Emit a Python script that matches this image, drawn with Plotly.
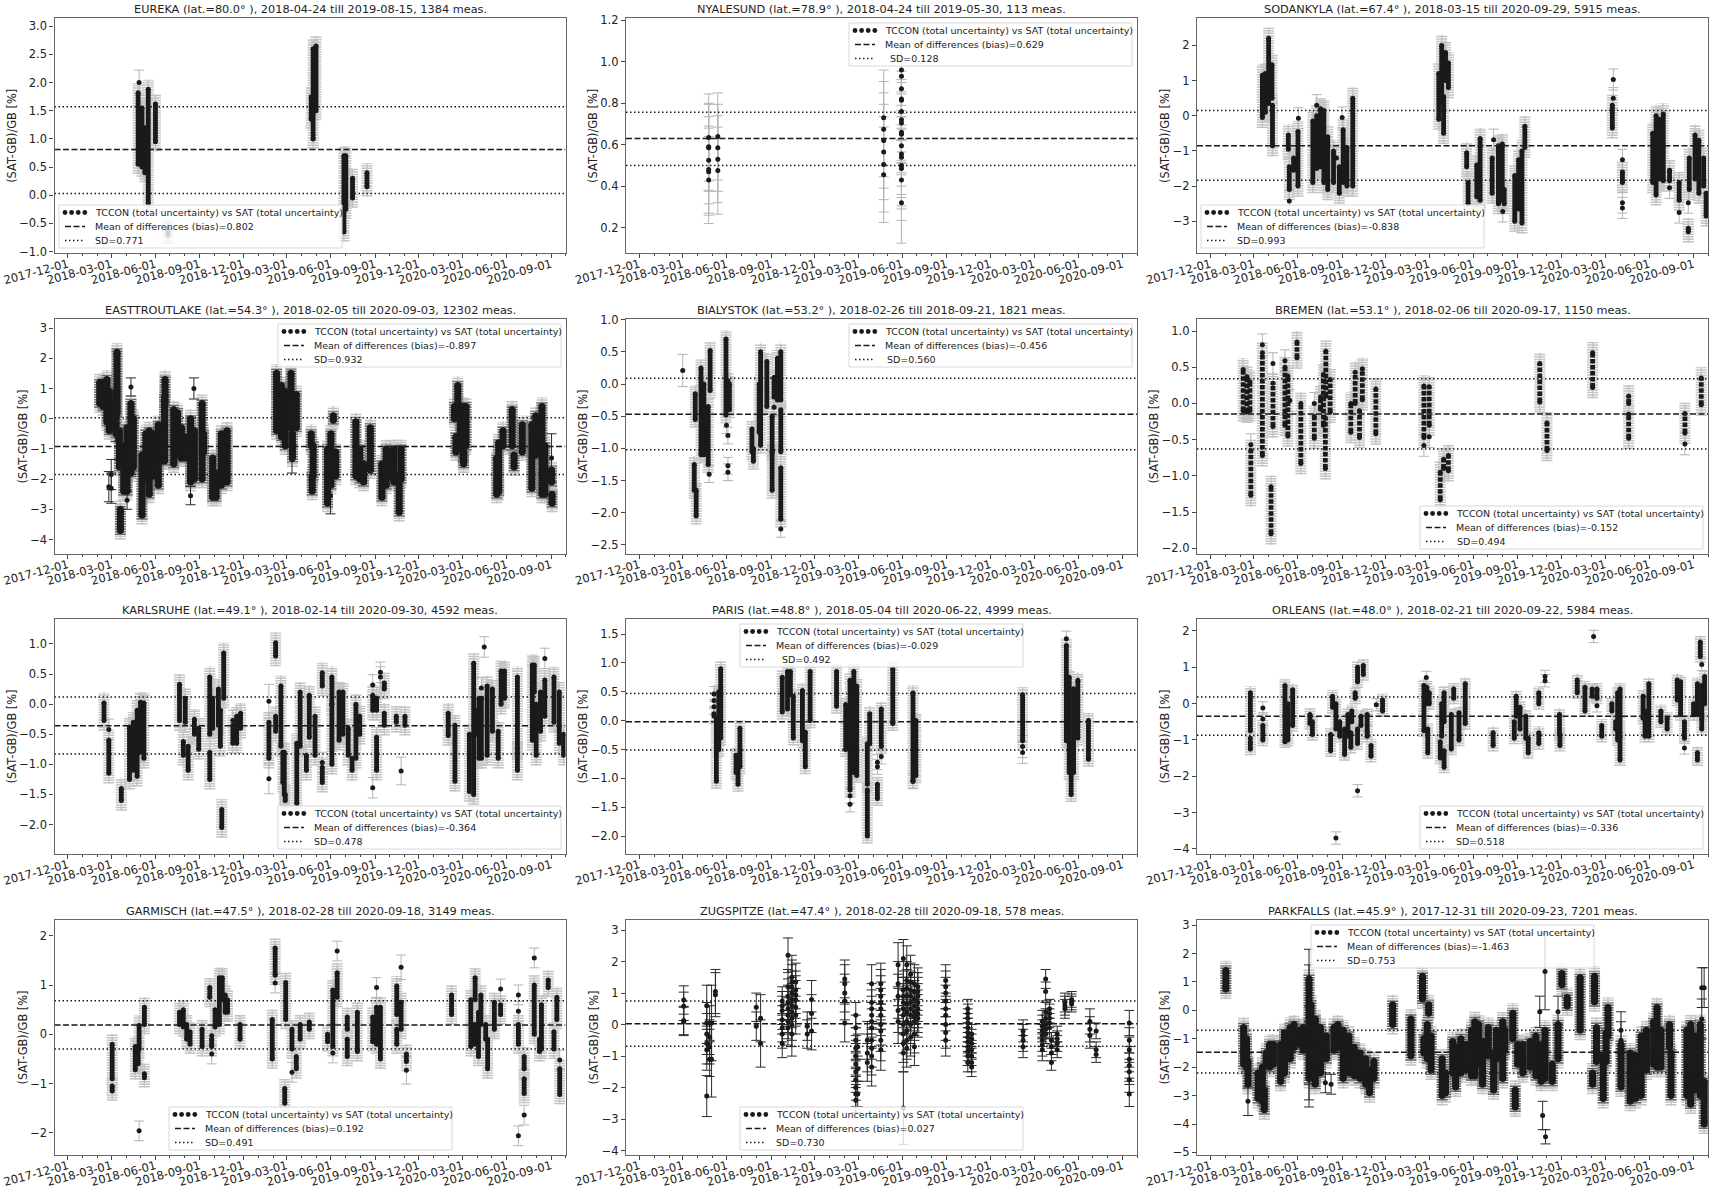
import plotly.graph_objects as go
from plotly.subplots import make_subplots

# (date, low, high) = dense runs of measurements, (date, [values], err) = single dots
eureka_cols = [("2018-04-26", 0.55, 1.82), ("2018-05-04", 0.5, 1.55), ("2018-05-10", 0.4, 1.2), ("2018-05-17", -0.15, 1.88),
               ("2018-06-01", 0.95, 1.62), ("2018-06-27", -0.7, -0.6), ("2019-04-21", 1.35, 1.75), ("2019-04-25", 1.0, 2.6),
               ("2019-05-01", 1.5, 2.65), ("2019-06-28", -0.65, 0.7), ("2019-07-02", -0.25, 0.7), ("2019-07-16", -0.05, 0.3),
               ("2019-08-15", 0.15, 0.4)]
eureka_pts = [("2018-04-28", [2.0], 0.22)]

nyalesund_cols = []
nyalesund_pts = [("2018-04-24", [0.635, 0.59, 0.585, 0.525, 0.48, 0.47, 0.43], 0.21),
                 ("2018-05-13", [0.64, 0.585, 0.53, 0.475], 0.21),
                 ("2019-04-23", [0.73, 0.675, 0.62, 0.565, 0.505, 0.455], 0.23),
                 ("2019-05-30", [0.96, 0.93, 0.87, 0.82, 0.815, 0.76, 0.72, 0.705, 0.66, 0.65, 0.595, 0.555, 0.54, 0.5, 0.485, 0.43, 0.32], 0.195)]

sodankyla_cols = [("2018-03-19", -0.05, 1.15), ("2018-03-25", 0.1, 1.2), ("2018-04-01", 0.35, 2.2), ("2018-04-08", 0.5, 1.45),
                  ("2018-04-09", -0.85, 0.3), ("2018-05-12", -0.95, -0.55), ("2018-05-14", -2.1, -1.45), ("2018-05-23", -1.55, -1.2),
                  ("2018-06-01", -2.0, -0.45), ("2018-07-02", -1.9, -0.15), ("2018-07-10", -1.5, 0.0), ("2018-07-18", -1.45, 0.2),
                  ("2018-07-25", -1.9, 0.15), ("2018-08-02", -2.1, -0.6), ("2018-08-14", -1.9, -1.0), ("2018-08-26", -2.2, -1.45),
                  ("2018-09-03", -1.9, -0.4), ("2018-09-11", -2.0, -0.9), ("2018-09-23", -2.0, 0.5),
                  ("2019-03-21", -0.1, 1.2), ("2019-03-27", 0.4, 2.0), ("2019-03-31", -0.5, 0.55), ("2019-04-04", 1.0, 1.8),
                  ("2019-04-10", 0.8, 1.5), ("2019-05-18", -1.45, -1.05), ("2019-05-21", -2.5, -1.9), ("2019-06-08", -2.3, -1.4),
                  ("2019-06-15", -2.4, -0.65), ("2019-07-10", -2.2, -1.2), ("2019-07-23", -2.5, -0.85), ("2019-07-31", -2.4, -0.8),
                  ("2019-08-04", -2.5, -2.1), ("2019-08-26", -3.0, -1.7), ("2019-09-03", -2.65, -1.25), ("2019-09-10", -3.05, -1.0),
                  ("2019-09-16", -0.9, -0.3), ("2020-03-16", -0.35, 0.3), ("2020-04-06", -1.9, -1.6), ("2020-06-08", -1.9, -0.5),
                  ("2020-06-15", -2.25, 0.0), ("2020-06-22", -1.8, -0.1), ("2020-06-30", -1.85, 0.05), ("2020-07-13", -1.85, -1.55),
                  ("2020-08-02", -2.4, -1.9), ("2020-08-21", -3.3, -3.2), ("2020-08-23", -2.1, -1.2), ("2020-09-04", -1.8, -0.55),
                  ("2020-09-12", -2.2, -0.7), ("2020-09-22", -2.0, -1.2), ("2020-09-27", -2.85, -2.2)]
sodankyla_pts = [("2018-06-02", [-0.07]), ("2018-05-14", [-2.42]), ("2018-07-10", [0.3]), ("2018-08-20", [-1.2]), ("2018-09-01", [-0.05]),
                 ("2019-07-13", [-0.68]), ("2019-08-01", [-2.72]), ("2020-03-18", [1.03, 0.5]), ("2020-04-06", [-1.25, -2.47, -2.62]),
                 ("2020-07-13", [-2.05]), ("2020-08-02", [-2.75]), ("2020-08-21", [-2.47])]

easttrout_cols = [("2018-02-05", 0.5, 1.2), ("2018-02-12", 0.4, 1.2), ("2018-02-20", -0.1, 1.3), ("2018-02-25", -0.4, 0.9),
                  ("2018-03-03", -0.3, 0.4), ("2018-03-13", 0.2, 2.2), ("2018-03-11", -0.5, 0.9), ("2018-03-18", -1.6, -0.4),
                  ("2018-03-20", -3.7, -3.0), ("2018-03-27", -2.4, -0.9), ("2018-04-03", -2.4, -0.3), ("2018-04-11", -1.8, 0.5),
                  ("2018-04-16", -1.6, 0.0), ("2018-05-04", -3.2, -1.2), ("2018-05-12", -2.0, -0.5), ("2018-05-19", -2.5, -0.4),
                  ("2018-05-27", -1.9, -0.5), ("2018-06-07", -2.2, -0.2), ("2018-06-15", -1.4, -0.4), ("2018-06-21", 0.5, 1.3),
                  ("2018-06-20", -1.4, 0.7), ("2018-07-09", -1.5, 0.3), ("2018-07-17", -1.2, 0.2), ("2018-07-25", -1.3, -0.3),
                  ("2018-08-02", -1.3, -0.6), ("2018-08-13", -2.1, 0.0), ("2018-08-21", -2.0, -0.4), ("2018-09-06", -2.0, 0.5),
                  ("2018-09-09", -1.1, -0.5), ("2018-09-28", -2.6, -1.3), ("2018-10-05", -2.6, -1.8), ("2018-10-16", -2.2, -0.5),
                  ("2018-10-28", -2.1, -0.4), ("2019-02-08", -0.4, 1.5), ("2019-02-18", -0.6, 1.1), ("2019-02-26", -0.9, 0.9),
                  ("2019-03-10", -0.3, 1.5), ("2019-03-13", -1.3, -0.5), ("2019-03-21", -0.3, 0.8), ("2019-04-21", -0.9, -0.5),
                  ("2019-04-25", -1.9, -0.9), ("2019-04-23", -2.4, -1.9), ("2019-05-25", -2.8, -1.0), ("2019-06-01", -2.2, -0.5),
                  ("2019-06-06", -0.05, 0.1), ("2019-06-11", -1.9, -1.1), ("2019-07-23", -1.9, -0.1), ("2019-07-31", -2.0, -1.0),
                  ("2019-08-08", -2.1, -1.5), ("2019-08-22", -1.7, -0.3), ("2019-09-15", -2.6, -1.5), ("2019-09-24", -2.2, -1.0),
                  ("2019-10-02", -1.9, -1.1), ("2019-10-10", -2.1, -1.0), ("2019-10-21", -3.1, -1.9), ("2019-10-25", -2.0, -1.0),
                  ("2020-02-13", 0.0, 0.4), ("2020-02-16", -1.1, -0.6), ("2020-02-20", 0.2, 1.1), ("2020-02-25", -1.0, 0.4),
                  ("2020-03-02", -1.3, 0.4), ("2020-03-08", -0.9, 0.4), ("2020-03-03", -1.5, -1.1), ("2020-05-11", -2.5, -1.3),
                  ("2020-05-15", -2.4, -0.8), ("2020-05-24", -0.9, -0.4), ("2020-06-12", -0.9, 0.3), ("2020-06-16", -1.6, -1.2),
                  ("2020-07-03", -1.1, -0.2), ("2020-07-23", -2.3, -0.2), ("2020-07-31", -1.2, 0.1), ("2020-08-13", -2.5, 0.4),
                  ("2020-08-19", -2.5, -0.9), ("2020-09-03", -2.8, -2.5), ("2020-09-02", -2.1, -1.7)]
easttrout_pts = [("2018-02-24", [-2.25], 0.5), ("2018-03-01", [-2.3, -1.85], 0.5), ("2018-04-11", [1.05]), ("2018-03-10", [-0.45]),
                 ("2018-04-03", [-2.7]), ("2018-08-13", [-2.55]), ("2018-08-20", [1.0], 0.35), ("2019-03-12", [-1.35], 0.45),
                 ("2019-05-31", [-2.55], 0.6), ("2020-09-02", [-1.3], 0.8)]

bialystok_cols = [("2018-03-27", -0.55, -0.15), ("2018-03-25", -1.65, -1.25), ("2018-03-29", -2.05, -1.65), ("2018-04-08", -1.1, 0.25),
                  ("2018-04-14", -1.1, 0.0), ("2018-04-23", -1.25, -0.35), ("2018-04-27", -0.1, 0.52), ("2018-05-30", -0.48, 0.7),
                  ("2018-06-03", -0.35, 0.05), ("2018-06-06", -0.4, 0.0), ("2018-07-23", -1.05, -0.7), ("2018-07-26", -1.2, -1.0),
                  ("2018-08-07", -0.75, 0.0), ("2018-08-10", -0.95, 0.5), ("2018-08-23", -0.35, 0.35), ("2018-09-03", -1.65, -1.05),
                  ("2018-09-03", -1.05, -0.5), ("2018-09-07", -0.2, 0.1), ("2018-09-14", -0.25, 0.4), ("2018-09-21", -1.05, -0.4),
                  ("2018-09-21", -2.1, -1.3), ("2018-09-21", -0.25, 0.5)]
bialystok_pts = [("2018-03-01", [0.21], 0.25), ("2018-04-25", [-1.4]), ("2018-05-31", [-0.64]), ("2018-06-03", [-0.8, -1.27, -1.37]),
                 ("2018-09-21", [-2.25]), ("2018-09-07", [-0.36])]

bremen_cols = [("2018-02-07", -0.1, 0.47), ("2018-02-15", -0.12, 0.37), ("2018-02-21", -0.1, 0.3), ("2018-02-23", -1.27, -0.65),
               ("2018-03-19", -0.72, 0.7), ("2018-04-10", -0.32, 0.28), ("2018-04-06", -1.8, -1.15), ("2018-05-05", -0.3, 0.5),
               ("2018-05-11", -0.45, 0.38), ("2018-05-30", 0.63, 0.85), ("2018-06-07", -0.83, 0.0), ("2018-07-05", -0.48, -0.18),
               ("2018-07-18", -0.08, 0.09), ("2018-07-24", -0.3, 0.4), ("2018-07-28", -0.9, -0.2), ("2018-07-29", 0.1, 0.72),
               ("2018-08-07", -0.12, 0.33), ("2018-09-19", -0.4, 0.0), ("2018-09-28", 0.0, 0.43), ("2018-10-07", -0.47, -0.1),
               ("2018-10-13", 0.05, 0.48), ("2018-11-10", -0.42, 0.2), ("2019-02-18", -0.47, 0.24), ("2019-03-01", -0.3, 0.23),
               ("2019-03-24", -1.33, -0.95), ("2019-03-31", -0.9, -0.77), ("2019-04-10", -0.93, -0.72), ("2019-10-17", 0.02, 0.55),
               ("2019-11-01", -0.65, -0.27), ("2020-02-04", 0.22, 0.7), ("2020-04-19", -0.48, -0.15), ("2020-04-19", 0.0, 0.1),
               ("2020-08-14", -0.41, -0.14), ("2020-09-17", -0.02, 0.35)]
bremen_pts = [("2018-02-23", [-0.57]), ("2018-03-19", [0.81]), ("2018-04-10", [0.55]), ("2018-05-05", [0.59]), ("2018-05-15", [0.04]),
              ("2018-07-05", [0.0]), ("2019-02-18", [-0.58]), ("2019-03-01", [-0.46]), ("2020-08-14", [-0.56])]

karlsruhe_cols = [("2018-02-14", -0.27, 0.02), ("2018-02-24", -1.15, -0.6), ("2018-03-22", -1.6, -1.4), ("2018-04-08", -1.25, -0.38),
                  ("2018-04-16", -1.1, -0.3), ("2018-04-24", -1.2, -0.1), ("2018-05-01", -0.8, 0.03), ("2018-05-08", -0.9, 0.02),
                  ("2018-07-21", -0.27, 0.33), ("2018-07-29", -0.85, -0.62), ("2018-08-02", -0.3, 0.1), ("2018-08-08", -1.1, -0.7),
                  ("2018-08-21", -0.5, -0.25), ("2018-08-30", -0.75, -0.4), ("2018-09-22", -1.25, -0.8), ("2018-09-22", -0.5, 0.45),
                  ("2018-09-28", -0.4, 0.1), ("2018-10-10", -0.35, 0.25), ("2018-10-14", -0.7, -0.1), ("2018-10-17", -2.05, -1.75),
                  ("2018-10-21", 0.1, 0.85), ("2018-11-09", -0.65, -0.35), ("2018-11-17", -0.65, -0.2), ("2018-11-25", -0.4, -0.15),
                  ("2019-01-23", -0.9, -0.3), ("2019-02-06", -0.45, -0.2), ("2019-02-06", 0.8, 1.02), ("2019-02-17", -0.7, 0.3),
                  ("2019-02-21", -1.3, -0.8), ("2019-02-24", -1.5, -0.8), ("2019-02-26", -1.6, -1.5), ("2019-03-22", -1.65, -0.65),
                  ("2019-03-29", -0.7, 0.2), ("2019-04-11", -1.1, -0.85), ("2019-04-17", -0.55, 0.15), ("2019-04-29", -0.85, -0.2),
                  ("2019-05-14", 0.3, 0.52), ("2019-05-14", -1.3, -1.05), ("2019-06-03", -1.0, 0.0), ("2019-06-03", 0.0, 0.45),
                  ("2019-06-18", -0.6, 0.2), ("2019-06-26", -0.5, 0.2), ("2019-07-07", -0.85, -0.4), ("2019-07-15", -1.1, -0.9),
                  ("2019-07-23", -0.9, 0.0), ("2019-07-31", -0.5, -0.2), ("2019-08-27", -0.1, 0.15), ("2019-09-04", -1.1, -0.55),
                  ("2019-09-04", -0.1, 0.1), ("2019-09-20", -0.35, -0.15), ("2019-09-20", 0.25, 0.35), ("2019-10-15", -0.3, -0.2),
                  ("2019-11-02", -0.35, -0.2), ("2020-01-31", -0.52, -0.15), ("2020-02-14", -1.28, -0.35), ("2020-03-15", -1.45, -0.5),
                  ("2020-03-24", -1.5, 0.68), ("2020-03-30", -0.5, -0.1), ("2020-04-04", -0.9, 0.1), ("2020-04-09", -0.9, 0.1),
                  ("2020-04-21", -0.85, 0.3), ("2020-05-02", -0.45, 0.25), ("2020-05-14", -0.9, -0.45), ("2020-05-20", 0.0, 0.55),
                  ("2020-05-27", 0.1, 0.55), ("2020-06-23", -1.1, -0.8), ("2020-06-23", -0.75, 0.45), ("2020-07-24", -0.6, 0.65),
                  ("2020-07-28", 0.2, 0.65), ("2020-08-01", -0.85, 0.0), ("2020-08-10", -0.45, 0.2), ("2020-08-19", -0.2, 0.4),
                  ("2020-09-07", -0.3, 0.45), ("2020-09-18", -0.65, 0.2), ("2020-09-27", -0.85, -0.5)]
karlsruhe_pts = [("2018-02-24", [-0.42]), ("2018-11-09", [-0.27]), ("2019-01-23", [-1.24], 0.25), ("2019-01-23", [0.05], 0.28), ("2019-05-14", [-0.97]),
                 ("2019-08-27", [-1.39, 0.32]), ("2019-09-12", [0.53, 0.45]), ("2019-10-25", [-1.11], 0.23), ("2020-04-09", [0.27]),
                 ("2020-04-15", [0.95]), ("2020-08-19", [0.76])]

paris_cols = [("2018-05-10", -1.05, 0.05), ("2018-05-15", -0.5, 0.5), ("2018-05-19", -0.3, 0.9), ("2018-06-20", -0.9, -0.6),
              ("2018-06-24", -1.1, -0.6), ("2018-06-28", -0.8, -0.13), ("2018-09-24", 0.15, 0.75), ("2018-10-05", 0.2, 0.85),
              ("2018-10-11", 0.45, 0.85), ("2018-10-17", -0.3, 0.42), ("2018-11-05", -0.35, 0.52), ("2018-11-11", -0.8, -0.2),
              ("2018-11-21", 0.0, 0.85), ("2019-01-15", 0.25, 0.85), ("2019-02-03", -0.5, 0.28), ("2019-02-12", -1.2, 0.7),
              ("2019-02-20", -0.9, 0.85), ("2019-02-26", -0.95, 0.6), ("2019-03-20", -2.0, -1.2), ("2019-03-20", -1.1, -0.4),
              ("2019-03-25", -0.4, 0.12), ("2019-04-10", -1.35, -1.1), ("2019-04-18", -0.45, 0.2), ("2019-05-12", -0.05, 0.9),
              ("2019-06-23", -1.05, 0.48), ("2019-06-29", -0.95, 0.0), ("2020-02-06", -0.35, 0.45), ("2020-05-07", -0.35, 1.3),
              ("2020-05-13", -0.9, 0.75), ("2020-05-17", -1.28, -0.4), ("2020-05-22", -0.9, 0.55), ("2020-05-31", -0.3, 0.7),
              ("2020-06-22", -0.67, 0.0)]
paris_pts = [("2018-05-05", [0.46, 0.35, 0.24, 0.12, 0.08]), ("2019-02-12", [-1.3, -1.45]), ("2019-04-10", [-0.72, -0.8]), ("2019-04-18", [-0.62]),
             ("2019-06-23", [-1.05]), ("2020-02-06", [-0.45, -0.55], 0.19), ("2020-05-07", [1.42])]

orleans_cols = [("2018-02-22", -0.75, 0.3), ("2018-02-22", -1.25, -1.05), ("2018-03-20", -1.0, -0.6), ("2018-05-05", -1.05, 0.5),
                ("2018-05-11", -1.0, 0.0), ("2018-05-21", -0.6, 0.38), ("2018-06-26", -0.55, -0.3), ("2018-07-01", -0.85, -0.5),
                ("2018-08-08", -1.3, -0.85), ("2018-08-12", -0.1, 0.2), ("2018-08-19", -0.7, 0.0), ("2018-08-27", -0.9, -0.5),
                ("2018-09-06", -1.4, -0.7), ("2018-09-13", -0.9, -0.3), ("2018-09-19", -1.2, -0.8), ("2018-09-21", -0.5, -0.2),
                ("2018-09-28", 0.15, 0.3), ("2018-10-03", -1.1, -0.7), ("2018-10-03", 0.6, 1.0), ("2018-10-10", -0.6, -0.35),
                ("2018-10-15", 0.8, 1.05), ("2018-10-23", -0.9, -0.3), ("2018-10-31", -1.45, -1.15), ("2018-11-24", -0.2, 0.1),
                ("2019-02-18", -0.75, 0.5), ("2019-02-24", 0.0, 0.45), ("2019-02-26", -1.35, -0.7), ("2019-03-01", 0.0, 0.3),
                ("2019-03-24", -1.5, -1.05), ("2019-03-27", -0.9, 0.0), ("2019-04-01", -1.75, -1.3), ("2019-04-01", -0.5, 0.3),
                ("2019-04-16", -1.25, -0.3), ("2019-04-21", 0.15, 0.4), ("2019-05-02", -1.0, -0.25), ("2019-05-15", -0.55, 0.55),
                ("2019-07-12", -1.15, -0.8), ("2019-08-25", -0.95, -0.5), ("2019-08-29", -0.35, 0.2), ("2019-09-06", -0.7, -0.1),
                ("2019-09-18", -0.95, -0.35), ("2019-09-23", -1.35, -0.95), ("2019-10-15", 0.0, 0.3), ("2019-10-15", -1.1, -0.8),
                ("2019-11-27", -0.85, -0.3), ("2019-11-28", -1.15, -0.85), ("2020-01-03", 0.3, 0.65), ("2020-01-19", -0.2, 0.45),
                ("2020-02-03", 0.2, 0.4), ("2020-02-13", 0.15, 0.4), ("2020-02-23", -0.9, -0.6), ("2020-03-15", -0.2, 0.0),
                ("2020-03-23", -0.7, -0.5), ("2020-03-27", -1.0, 0.3), ("2020-04-01", -1.55, -0.9), ("2020-04-01", -0.8, 0.4),
                ("2020-05-19", -0.4, 0.2), ("2020-05-23", -0.9, -0.2), ("2020-05-31", -0.9, 0.55), ("2020-06-25", -0.5, -0.2),
                ("2020-07-08", -0.7, -0.4), ("2020-07-29", 0.1, 0.65), ("2020-08-05", -0.3, 0.6), ("2020-08-13", -0.95, -0.5),
                ("2020-09-01", -0.3, 0.0), ("2020-09-09", -1.55, -1.35), ("2020-09-09", -0.3, 0.55), ("2020-09-15", 1.3, 1.7),
                ("2020-09-18", -0.7, -0.4), ("2020-09-18", -0.3, 0.5), ("2020-09-24", 0.0, 0.75)]
orleans_pts = [("2018-02-22", [-0.95]), ("2018-03-20", [-0.12, -0.42]), ("2018-08-19", [-3.7]), ("2018-10-03", [-2.4]), ("2018-10-23", [-0.77]),
               ("2018-11-11", [-0.03]), ("2019-02-23", [0.72]), ("2019-10-28", [0.75, 0.63]), ("2020-02-06", [1.85]), ("2020-02-13", [-0.06]),
               ("2020-08-13", [-1.22]), ("2020-09-18", [1.08])]

garmisch_cols = [("2018-03-03", -0.9, -0.2), ("2018-03-03", -1.15, -1.05), ("2018-04-20", -0.72, -0.25), ("2018-04-26", -0.6, -0.25),
                 ("2018-04-28", -0.3, 0.18), ("2018-05-09", 0.2, 0.55), ("2018-05-09", -0.88, -0.8), ("2018-07-21", 0.2, 0.45),
                 ("2018-07-29", 0.15, 0.5), ("2018-08-05", -0.1, 0.2), ("2018-08-12", -0.2, 0.05), ("2018-09-06", -0.25, 0.1),
                 ("2018-09-26", -0.25, -0.1), ("2018-09-22", 0.75, 0.95), ("2018-10-03", 0.15, 0.5), ("2018-10-12", 0.2, 1.15),
                 ("2018-10-18", 0.7, 1.15), ("2018-10-24", 0.45, 0.8), ("2018-10-29", 0.45, 0.7), ("2018-11-24", -0.1, 0.2),
                 ("2019-01-30", -0.5, 0.3), ("2019-02-05", 1.2, 1.75), ("2019-02-27", 0.3, 1.05), ("2019-02-25", -1.4, -1.1),
                 ("2019-03-12", -0.3, 0.1), ("2019-03-21", -0.7, -0.45), ("2019-03-29", -0.1, 0.2), ("2019-04-17", 0.1, 0.25),
                 ("2019-05-25", -0.15, 0.0), ("2019-06-05", -0.25, 0.9), ("2019-06-14", 0.75, 1.25), ("2019-07-05", -0.45, -0.1),
                 ("2019-07-05", 0.1, 0.35), ("2019-07-26", -0.35, 0.45), ("2019-08-27", -0.15, 0.35), ("2019-09-04", -0.2, 0.55),
                 ("2019-09-12", -0.5, 0.55), ("2019-10-16", -0.2, 0.1), ("2019-10-16", 0.4, 0.98), ("2019-10-25", 0.1, 0.65),
                 ("2019-11-05", -0.55, -0.4), ("2020-02-07", 0.4, 0.8), ("2020-03-18", -0.25, 0.7), ("2020-03-26", -0.2, 0.2),
                 ("2020-03-27", 0.7, 1.15), ("2020-04-03", -0.45, 0.45), ("2020-04-08", 0.2, 0.8), ("2020-04-18", -0.1, 0.2),
                 ("2020-04-22", -0.7, -0.1), ("2020-05-06", 0.1, 0.65), ("2020-05-19", 0.4, 0.6), ("2020-06-25", -0.2, 0.2),
                 ("2020-07-07", -1.2, -0.9), ("2020-07-07", -0.7, -0.45), ("2020-07-28", 0.0, 1.0), ("2020-08-12", -0.3, 0.6),
                 ("2020-08-08", -0.35, -0.1), ("2020-08-26", 0.95, 1.1), ("2020-09-07", -0.3, 0.05), ("2020-09-13", 0.3, 0.75),
                 ("2020-09-19", -1.22, -0.7)]
garmisch_pts = [("2018-04-28", [-1.96]), ("2018-09-26", [-0.03, -0.4]), ("2019-02-05", [1.04]), ("2019-03-12", [-0.77]), ("2019-06-14", [1.69]),
                ("2019-06-05", [-0.38]), ("2019-09-04", [0.95]), ("2019-10-25", [1.36], 0.25), ("2019-11-05", [-0.73], 0.28), ("2020-05-19", [0.92]),
                ("2020-06-25", [0.8, 0.47, -2.06]), ("2020-07-07", [-1.64]), ("2020-07-28", [1.55]), ("2020-09-19", [-0.52])]

zugspitze_cols = []
zugspitze_pts = [("2018-03-03", [0.78, 0.58, 0.13, 0.1], 0.45), ("2018-04-20", [0.6, 0.05, -0.3, -0.6, -0.8, -2.27], 0.65),
                 ("2018-04-26", [0.05, -0.4, -0.7, -1.1], 0.55), ("2018-04-30", [0.05, -1.1], 1.2), ("2018-05-08", [1.05, 0.95], 0.7),
                 ("2018-08-01", [0.55, -0.05], 0.45), ("2018-08-10", [0.2, -0.6], 0.75), ("2018-09-24", [0.75, 0.6, 0.45, 0.15, -0.1, -0.3, -0.6], 0.45),
                 ("2018-10-06", [2.2, 1.2, 0.9, 0.7, 0.5, 0.3, 0.1, -0.1], 0.55), ("2018-10-14", [1.5, 1.35, 1.2, 1.0, 0.8, 0.6, 0.4, 0.2, 0.0, -0.3], 0.7),
                 ("2018-10-22", [1.35, 1.1, 0.95, 0.8, 0.55, 0.3], 0.6), ("2018-11-15", [-0.05, -0.3], 0.45), ("2018-11-24", [0.8, 0.35, -0.2], 0.6),
                 ("2019-02-01", [1.45, 1.3, 1.0, 0.75, 0.05], 0.6), ("2019-02-24", [0.3, -0.1, -0.5, -0.75, -1.0, -1.25, -1.5, -1.75, -2.0, -2.2, -2.4], 0.4),
                 ("2019-02-28", [-0.7, -1.4, -2.2], 0.4), ("2019-03-20", [-0.5, -0.9, -1.2], 0.6), ("2019-03-29", [1.3, 0.7, 0.5, 0.3, 0.1, -0.1, -0.5, -0.75, -1.0, -1.35], 0.6),
                 ("2019-04-17", [1.3, 1.1, 0.9, 0.7, 0.5, 0.3, 0.0, -0.2, -0.5, -0.8], 0.65), ("2019-05-23", [1.9, 1.3, 0.9, 0.45, 0.1], 0.7),
                 ("2019-06-03", [2.1, 1.1, 0.9, 0.7, 0.5, 0.3, 0.0, -0.3, -0.6, -0.9], 0.6), ("2019-06-10", [1.9, 1.4, 1.15, 0.9, 0.65, 0.4, 0.1, -0.2, -0.5, -0.75], 0.6),
                 ("2019-06-18", [1.6, 1.35, 1.1, 0.9, 0.7, 0.5, 0.3, 0.0, -0.4], 0.6), ("2019-06-26", [1.3, 1.05, 0.8, 0.6, 0.4, 0.25, 0.1, -0.3, -0.7], 0.6),
                 ("2019-07-03", [1.2, 1.05, 0.9, 0.7, 0.5, 0.35, 0.2], 0.6), ("2019-08-30", [1.4, 1.2, 1.0, 0.75, 0.5, 0.3, 0.0, -0.25, -0.5], 0.5),
                 ("2019-10-15", [0.5, 0.35, 0.2, 0.05, -0.1, -0.25, -0.4, -0.55, -0.7, -0.85, -1.0, -1.2], 0.3),
                 ("2019-10-23", [-0.3, -0.45, -0.6, -0.8, -1.0, -1.2, -1.35], 0.3), ("2020-02-07", [-0.2, -0.35, -0.5, -0.7], 0.35),
                 ("2020-03-18", [0.1, -0.05, -0.2, -0.35, -0.5, -0.65, -0.8], 0.35), ("2020-03-25", [1.45, 1.05, 0.4, 0.2, 0.0, -0.15, -0.3], 0.3),
                 ("2020-04-02", [0.5, 0.35, 0.2, 0.05, -0.1], 0.3), ("2020-04-06", [-0.5, -0.7, -0.9, -1.2], 0.25),
                 ("2020-04-18", [-0.3, -0.45, -0.6, -0.8], 0.25), ("2020-05-04", [0.5, 0.6, 0.7], 0.3), ("2020-05-18", [0.8, 0.72, 0.65], 0.25),
                 ("2020-06-25", [0.1, -0.15, -0.35], 0.4), ("2020-07-08", [-0.2, -0.8, -0.95], 0.25), ("2020-09-15", [0.05, -0.5, -0.8, -1.1, -1.3, -1.5, -1.75, -2.2], 0.4),
                 ("2019-06-03", [-2.65], 1.15)]

parkfalls_cols = [("2018-01-02", 0.75, 1.4), ("2018-02-08", -1.9, -0.6), ("2018-02-14", -2.0, -1.0), ("2018-02-17", -2.6, -1.8),
                  ("2018-03-10", -3.1, -2.2), ("2018-03-19", -3.2, -2.0), ("2018-03-23", -3.5, -2.8), ("2018-03-27", -1.9, -1.5),
                  ("2018-04-03", -2.0, -1.2), ("2018-04-11", -1.9, -1.2), ("2018-04-26", -2.5, -1.2), ("2018-05-04", -2.2, -0.8),
                  ("2018-05-16", -1.7, -0.6), ("2018-05-24", -1.3, -0.5), ("2018-06-05", -1.2, -0.7), ("2018-06-12", -1.4, -0.6),
                  ("2018-06-24", -2.4, 1.1), ("2018-06-28", -1.1, 0.2), ("2018-07-07", -2.6, -0.3), ("2018-07-18", -2.2, -0.6),
                  ("2018-07-30", -1.7, -0.9), ("2018-08-15", -1.4, -0.6), ("2018-08-23", -1.3, -0.5), ("2018-09-03", -2.4, -0.7),
                  ("2018-09-15", -2.2, -0.9), ("2018-09-26", -2.3, -1.3), ("2018-10-08", -2.4, -1.5), ("2018-10-20", -2.6, -1.7),
                  ("2018-10-28", -2.9, -2.1), ("2018-11-06", -2.4, -1.8), ("2018-12-15", -0.5, 0.2), ("2019-01-22", -1.6, -0.3),
                  ("2019-02-15", 0.4, 1.2), ("2019-02-28", -0.1, 0.2), ("2019-02-18", -1.5, -1.0), ("2019-02-25", -1.7, -0.5),
                  ("2019-03-05", -2.1, -0.9), ("2019-03-28", -3.0, -1.7), ("2019-04-04", -2.9, -2.2), ("2019-04-19", -2.2, -1.1),
                  ("2019-04-25", -2.7, -1.3), ("2019-05-06", -2.2, -1.0), ("2019-05-16", -2.1, -1.2), ("2019-05-28", -2.3, -0.7),
                  ("2019-06-04", -2.3, -0.4), ("2019-06-12", -1.9, -0.5), ("2019-06-20", -2.6, -1.1), ("2019-07-02", -1.6, -0.6),
                  ("2019-07-13", -2.8, -1.5), ("2019-07-19", -1.7, -0.7), ("2019-08-01", -2.4, -0.4), ("2019-08-05", -1.4, -0.7),
                  ("2019-08-22", -1.0, -0.1), ("2019-08-27", -3.4, -2.8), ("2019-09-01", -1.9, -1.2), ("2019-09-12", -2.2, -1.2),
                  ("2019-09-27", -2.0, -1.1), ("2019-10-09", -2.3, -0.9), ("2019-10-20", -2.5, -1.2), ("2019-10-28", -2.4, -0.7),
                  ("2019-11-12", -2.5, -1.9), ("2019-11-24", -1.7, -0.5), ("2019-12-02", 0.9, 1.3), ("2019-12-13", 0.15, 0.45),
                  ("2020-01-09", -0.7, 1.15), ("2020-02-08", 0.3, 1.2), ("2020-02-12", -1.8, -0.6), ("2020-02-04", -2.6, -2.2),
                  ("2020-02-26", -3.1, -1.6), ("2020-03-03", -1.8, -0.8), ("2020-03-07", -0.9, 0.1), ("2020-04-03", -2.7, -1.2),
                  ("2020-04-22", -3.2, -1.5), ("2020-05-03", -3.1, -1.6), ("2020-05-15", -3.0, -0.9), ("2020-05-26", -2.1, -0.7),
                  ("2020-06-10", -1.9, -0.4), ("2020-06-17", -2.0, 0.1), ("2020-06-25", -2.0, -0.7), ("2020-07-16", -3.0, -1.5),
                  ("2020-07-13", -1.3, -0.5), ("2020-08-18", -3.0, -0.7), ("2020-08-26", -3.3, -0.5), ("2020-09-03", -2.8, -0.9),
                  ("2020-09-15", -3.0, -0.5), ("2020-09-23", -4.0, -2.5)]
parkfalls_pts = [("2018-02-17", [-3.2], 0.5), ("2018-06-24", [1.15, 0.6, -1.6, -2.15, -2.4], 1.0), ("2018-07-28", [-2.55]), ("2018-08-09", [-2.6]),
                 ("2019-10-17", [-0.05], 0.55), ("2019-10-23", [-3.7], 0.5), ("2019-10-29", [-4.45], 0.25), ("2019-10-28", [1.37], 1.35),
                 ("2019-11-24", [-0.05, -1.05], 0.55), ("2020-04-03", [-0.7, -1.05], 0.65), ("2020-09-18", [-0.3, 0.8], 0.7), ("2020-09-23", [0.8], 0.7)]

titles = ["EUREKA (lat.=80.0° ), 2018-04-24 till 2019-08-15, 1384 meas.", "NYALESUND (lat.=78.9° ), 2018-04-24 till 2019-05-30, 113 meas.",
          "SODANKYLA (lat.=67.4° ), 2018-03-15 till 2020-09-29, 5915 meas.", "EASTTROUTLAKE (lat.=54.3° ), 2018-02-05 till 2020-09-03, 12302 meas.",
          "BIALYSTOK (lat.=53.2° ), 2018-02-26 till 2018-09-21, 1821 meas.", "BREMEN (lat.=53.1° ), 2018-02-06 till 2020-09-17, 1150 meas.",
          "KARLSRUHE (lat.=49.1° ), 2018-02-14 till 2020-09-30, 4592 meas.", "PARIS (lat.=48.8° ), 2018-05-04 till 2020-06-22, 4999 meas.",
          "ORLEANS (lat.=48.0° ), 2018-02-21 till 2020-09-22, 5984 meas.", "GARMISCH (lat.=47.5° ), 2018-02-28 till 2020-09-18, 3149 meas.",
          "ZUGSPITZE (lat.=47.4° ), 2018-02-28 till 2020-09-18, 578 meas.", "PARKFALLS (lat.=45.9° ), 2017-12-31 till 2020-09-23, 7201 meas."]
all_cols = [eureka_cols, nyalesund_cols, sodankyla_cols, easttrout_cols, bialystok_cols, bremen_cols,
            karlsruhe_cols, paris_cols, orleans_cols, garmisch_cols, zugspitze_cols, parkfalls_cols]
all_pts = [eureka_pts, nyalesund_pts, sodankyla_pts, easttrout_pts, bialystok_pts, bremen_pts,
           karlsruhe_pts, paris_pts, orleans_pts, garmisch_pts, zugspitze_pts, parkfalls_pts]
errs = [0.17, 0.2, 0.3, 0.3, 0.13, 0.15, 0.17, 0.13, 0.17, 0.2, 0.5, 0.35]
means = [0.81, 0.63, -0.85, -0.92, -0.47, -0.145, -0.36, -0.02, -0.345, 0.19, 0.03, -1.47]
sd_high = [1.57, 0.757, 0.15, 0.03, 0.09, 0.34, 0.12, 0.47, 0.18, 0.68, 0.75, -0.7]
sd_low = [0.03, 0.5, -1.83, -1.85, -1.02, -0.63, -0.83, -0.51, -0.87, -0.3, -0.69, -2.2]
bias_text = ["0.802", "0.629", "-0.838", "-0.897", "-0.456", "-0.152", "-0.364", "-0.029", "-0.336", "0.192", "0.027", "-1.463"]
sd_text = ["0.771", "0.128", "0.993", "0.932", "0.560", "0.494", "0.478", "0.492", "0.518", "0.491", "0.730", "0.753"]
y_ranges = [[-1.03, 3.14], [0.076, 1.21], [-3.91, 2.77], [-4.48, 3.3], [-2.64, 1.01], [-2.08, 1.166],
            [-2.49, 1.415], [-2.31, 1.76], [-4.14, 2.33], [-2.45, 2.32], [-4.14, 3.32], [-5.09, 3.18]]
y_dticks = [0.5, 0.2, 1, 1, 0.5, 0.5, 0.5, 0.5, 1, 1, 1, 1]

# legend box corner in page pixels, and the extra indent of the SD line
legend_left = [59, 849, 1201, 278, 849, 1420, 278, 740, 1420, 169, 740, 1311]
legend_top = [205, 23, 205, 324, 324, 506, 806, 624, 806, 1107, 1107, 925]
sd_indent = [0, 5, 0, 0, 1.5, 1, 0, 5.5, 0, 0, 0, 0]

W, H = 1717, 1192
col_left = [54.5, 626, 1197]
row_top = [18.3, 319, 619, 920]
pan_w, pan_h = 511, 235
x_range = ["2017-11-03", "2020-10-01"]

FONT = "DejaVu Sans"
BLACK = "#1a1a1a"
GREY = "#c4c4c4"
# darker ladders on the two busiest stations, black whiskers on Zugspitze, dotted stacks on Bremen
band_colors = {3: "#6e6e6e", 11: "#666666"}
whisker_colors = {3: "#2a2a2a", 10: "#2a2a2a", 11: "#2a2a2a"}
col_widths = {3: 7, 11: 7}
col_dashes = {5: "4.5px,1.5px"}
MEAN_DASH = "6px,2.5px"
SD_DASH = "1.5px,2.5px"


def px(x):
    return x / W


def py(y):
    return 1 - y / H


def draw_legend(fig, i):
    # matplotlib legend rows are tighter than plotly's, so the box is drawn by hand
    left, top = legend_left[i], legend_top[i]
    fig.add_shape(type="rect", xref="paper", yref="paper", layer="above",
                  x0=px(left), x1=px(left + 283), y0=py(top), y1=py(top + 43),
                  fillcolor="rgba(255,255,255,0.8)", line=dict(color="#d9d9d9", width=1))
    rows = [top + 7.5, top + 21.5, top + 35.5]
    for k in range(4):
        cx = left + 6 + k * 6.6
        fig.add_shape(type="circle", xref="paper", yref="paper", layer="above",
                      x0=px(cx - 2.4), x1=px(cx + 2.4), y0=py(rows[0] - 2.4), y1=py(rows[0] + 2.4),
                      fillcolor=BLACK, line=dict(width=0))
    for row, dash in ((rows[1], MEAN_DASH), (rows[2], SD_DASH)):
        fig.add_shape(type="line", xref="paper", yref="paper", layer="above",
                      x0=px(left + 6), x1=px(left + 26), y0=py(row), y1=py(row),
                      line=dict(color=BLACK, width=1.5, dash=dash))
    labels = ["TCCON (total uncertainty) vs SAT (total uncertainty)",
              f"Mean of differences (bias)={bias_text[i]}", f"SD={sd_text[i]}"]
    shifts = [0, 0, sd_indent[i]]
    for row, label, shift in zip(rows, labels, shifts):
        fig.add_annotation(x=px(left + 34 + shift), y=py(row), xref="paper", yref="paper", text=label, showarrow=False,
                           xanchor="left", yanchor="middle", font=dict(size=9.5))


fig = make_subplots(rows=4, cols=3)

for i in range(12):
    r, c = i // 3 + 1, i % 3 + 1
    err = errs[i]

    # grey ladder of error bars behind the dense runs
    band_x, band_y, dark_y, col_x, col_y = [], [], [], [], []
    for d, lo, hi in all_cols[i]:
        band_x += [d, d, None]
        band_y += [lo - err, hi + err, None]
        dark_y += [lo - 0.5 * err, hi + 0.5 * err, None]
        col_x += [d, d, None]
        col_y += [lo, hi, None]
    if band_x:
        fig.add_trace(go.Scatter(x=band_x, y=band_y, mode="lines", showlegend=False, hoverinfo="skip",
                                 line=dict(color=GREY, width=1.5)), row=r, col=c)
        fig.add_trace(go.Scatter(x=band_x, y=band_y, mode="lines", showlegend=False, hoverinfo="skip",
                                 line=dict(color=GREY, width=11, dash="1.5px,1px")), row=r, col=c)
    if band_x and i in band_colors:
        fig.add_trace(go.Scatter(x=band_x, y=dark_y, mode="lines", showlegend=False, hoverinfo="skip",
                                 line=dict(color=band_colors[i], width=11, dash="1.5px,1px")), row=r, col=c)

    pt_x, pt_y, pt_e = [], [], []
    for p in all_pts[i]:
        e = p[2] if len(p) > 2 else err
        for v in p[1]:
            pt_x.append(p[0])
            pt_y.append(v)
            pt_e.append(e)
    if pt_x:
        fig.add_trace(go.Scatter(x=pt_x, y=pt_y, mode="markers", showlegend=False,
                                 marker=dict(color=BLACK, size=5),
                                 error_y=dict(type="data", array=pt_e, color=whisker_colors.get(i, "#b4b4b4"), thickness=1, width=5)),
                      row=r, col=c)

    if col_x:
        fig.add_trace(go.Scatter(x=col_x, y=col_y, mode="lines+markers", showlegend=False,
                                 marker=dict(color=BLACK, size=col_widths.get(i, 5)),
                                 line=dict(color=BLACK, width=col_widths.get(i, 4.8), dash=col_dashes.get(i, "solid"))), row=r, col=c)

    fig.add_trace(go.Scatter(x=x_range, y=[sd_high[i]] * 2, mode="lines", showlegend=False,
                             line=dict(color=BLACK, width=1.5, dash=SD_DASH)), row=r, col=c)
    fig.add_trace(go.Scatter(x=x_range, y=[sd_low[i]] * 2, mode="lines", showlegend=False,
                             line=dict(color=BLACK, width=1.5, dash=SD_DASH)), row=r, col=c)
    fig.add_trace(go.Scatter(x=x_range, y=[means[i]] * 2, mode="lines", showlegend=False,
                             line=dict(color=BLACK, width=1.5, dash=MEAN_DASH)), row=r, col=c)

    x0 = col_left[c - 1] / W
    x1 = (col_left[c - 1] + pan_w) / W
    y1 = 1 - row_top[r - 1] / H
    y0 = 1 - (row_top[r - 1] + pan_h) / H

    fig.update_xaxes(domain=[x0, x1], range=x_range, type="date", dtick="M3", tick0="2017-12-01", tickformat="%Y-%m-%d",
                     tickangle=-15, ticks="outside", ticklen=4, tickcolor="#444", showgrid=False, zeroline=False, automargin=False,
                     showline=True, linecolor="#666", linewidth=1.2, mirror=True, tickfont=dict(size=11.5), ticklabelstandoff=-5,
                     minor=dict(dtick="M1", tick0="2017-12-01", ticks="outside", ticklen=2, tickcolor="#444", showgrid=False),
                     row=r, col=c)
    fig.update_yaxes(domain=[y0, y1], range=y_ranges[i], dtick=y_dticks[i], tick0=0,
                     tickformat=".1f" if y_dticks[i] < 1 else "d", automargin=False,
                     ticks="outside", ticklen=4, tickcolor="#444", showgrid=False, zeroline=False,
                     showline=True, linecolor="#666", linewidth=1.2, mirror=True, tickfont=dict(size=11.5),
                     title=dict(text="(SAT-GB)/GB [%]", font=dict(size=11.4), standoff=0),
                     row=r, col=c)

    draw_legend(fig, i)

    fig.add_annotation(x=(x0 + x1) / 2, y=y1, xref="paper", yref="paper", text=titles[i], showarrow=False,
                       xanchor="center", yanchor="bottom", yshift=0, font=dict(size=11.3))

fig.update_layout(
    width=W,
    height=H,
    showlegend=False,
    margin=dict(l=0, r=0, t=0, b=0),
    plot_bgcolor="white",
    paper_bgcolor="white",
    font=dict(family=FONT, color="#222222"),
)

fig.write_html("out.html", config={"displayModeBar": False}, post_script="document.body.style.margin='0';")
